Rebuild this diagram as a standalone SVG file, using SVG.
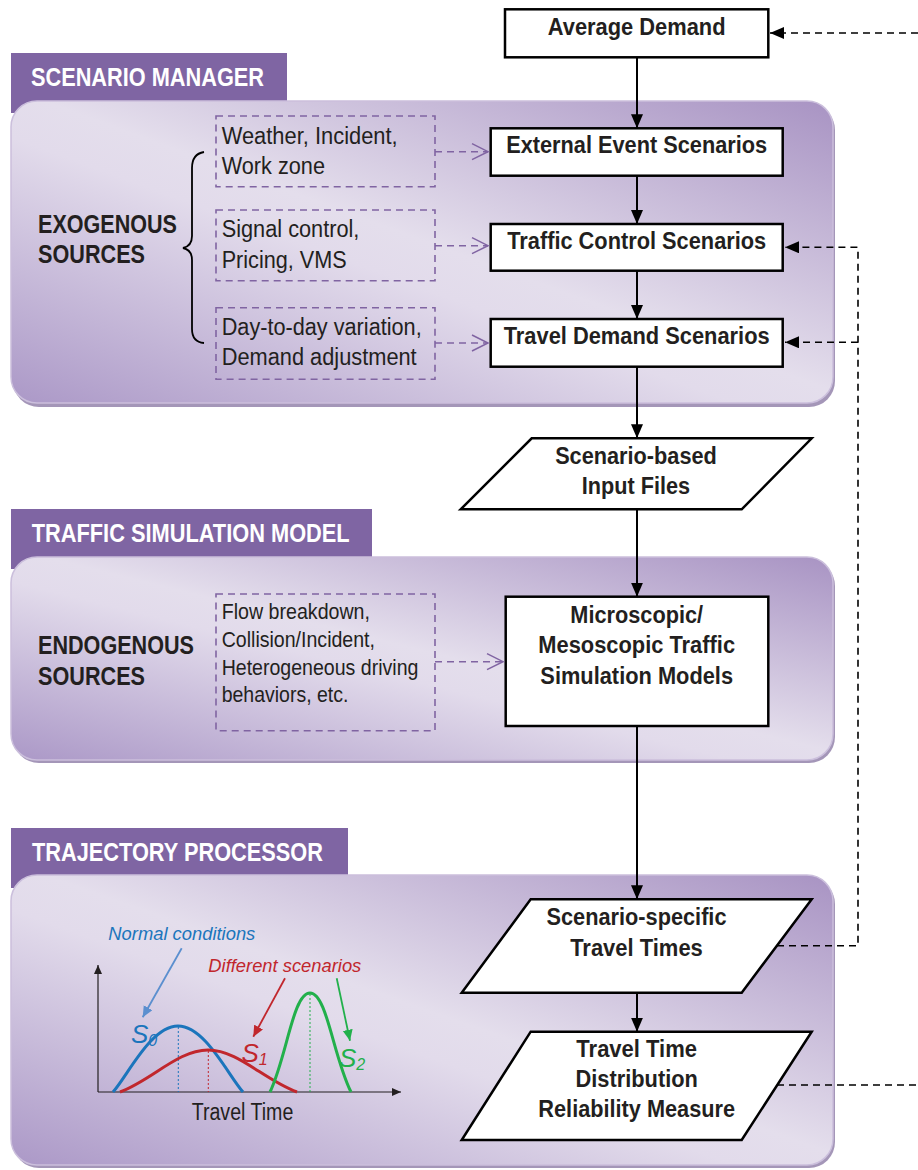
<svg xmlns="http://www.w3.org/2000/svg" width="918" height="1170" viewBox="0 0 918 1170">
<defs>
<linearGradient id="pg" x1="1" y1="0" x2="0" y2="1">
<stop offset="0" stop-color="#a893c3"/>
<stop offset="0.48" stop-color="#e4deec"/>
<stop offset="0.56" stop-color="#e2dbeb"/>
<stop offset="1" stop-color="#ab98c7"/>
</linearGradient>
<marker id="ah" markerUnits="userSpaceOnUse" markerWidth="15" markerHeight="12" refX="14" refY="6" orient="auto">
<path d="M0,0 L14,6 L0,12 z" fill="#000"/>
</marker>
<marker id="pa" markerUnits="userSpaceOnUse" markerWidth="20" markerHeight="20" refX="17" refY="9" orient="auto">
<path d="M1,1 L17,9 L1,17" fill="none" stroke="#8064a2" stroke-width="1.5"/>
</marker>
<marker id="sa" markerUnits="userSpaceOnUse" markerWidth="10" markerHeight="10" refX="9" refY="4" orient="auto">
<path d="M0,0 L9,4 L0,8 z" fill="#231f20"/>
</marker>
<marker id="ab" markerUnits="userSpaceOnUse" markerWidth="12" markerHeight="12" refX="11" refY="5" orient="auto">
<path d="M0,0 L11,5 L0,10 z" fill="#5b8fcf"/>
</marker>
<marker id="ar" markerUnits="userSpaceOnUse" markerWidth="12" markerHeight="12" refX="11" refY="5" orient="auto">
<path d="M0,0 L11,5 L0,10 z" fill="#c1272d"/>
</marker>
<marker id="ag" markerUnits="userSpaceOnUse" markerWidth="12" markerHeight="12" refX="11" refY="5" orient="auto">
<path d="M0,0 L11,5 L0,10 z" fill="#22b04b"/>
</marker>
</defs>
<style>
.tab{fill:#7f65a3}
.shadow{fill:#a496b8}
.panel{fill:url(#pg);stroke:#cbbfdc;stroke-width:1.5}
.tabt{font-family:"Liberation Sans Narrow","Liberation Sans",Arial,sans-serif;font-weight:bold;font-size:26px;fill:#fff}
.src{font-family:"Liberation Sans Narrow","Liberation Sans",Arial,sans-serif;font-weight:bold;font-size:25px;fill:#231f20}
.box{fill:#fff;stroke:#000;stroke-width:2.5}
.nt{font-family:"Liberation Sans Narrow","Liberation Sans",Arial,sans-serif;font-weight:bold;font-size:23.5px;fill:#231f20;text-anchor:middle}
.db{fill:none;stroke:#8064a2;stroke-width:1.6;stroke-dasharray:7,5}
.dt{font-family:"Liberation Sans Narrow","Liberation Sans",Arial,sans-serif;font-size:23px;fill:#231f20}
.dt2{font-family:"Liberation Sans Narrow","Liberation Sans",Arial,sans-serif;font-size:21.5px;fill:#231f20}
.main{fill:none;stroke:#000;stroke-width:2;marker-end:url(#ah)}
.fb{fill:none;stroke:#000;stroke-width:1.6;stroke-dasharray:7,5}
.pl{fill:none;stroke:#8064a2;stroke-width:1.6;stroke-dasharray:7,5;marker-end:url(#pa)}
.it{font-family:"Liberation Sans Narrow","Liberation Sans",Arial,sans-serif;font-style:italic;font-size:19px}
.sl{font-family:"Liberation Sans Narrow","Liberation Sans",Arial,sans-serif;font-style:italic;font-size:26px}
</style>

<g id="panel-scenario-manager">
<rect class="tab" x="11" y="53" width="276" height="60"/>
<rect class="shadow" x="13" y="104" width="822" height="303" rx="26"/>
<rect class="panel" x="11" y="101" width="822" height="302" rx="26"/>
<text class="tabt" x="31" y="86" textLength="233" lengthAdjust="spacingAndGlyphs">SCENARIO MANAGER</text>
</g>
<g id="panel-traffic-simulation">
<rect class="tab" x="11" y="509" width="361" height="60"/>
<rect class="shadow" x="13" y="560" width="822" height="203" rx="26"/>
<rect class="panel" x="11" y="557" width="822" height="203" rx="26"/>
<text class="tabt" x="31.7" y="542" textLength="318" lengthAdjust="spacingAndGlyphs">TRAFFIC SIMULATION MODEL</text>
</g>
<g id="panel-trajectory-processor">
<rect class="tab" x="11" y="828" width="337" height="60"/>
<rect class="shadow" x="13" y="878" width="822" height="290" rx="26"/>
<rect class="panel" x="11" y="875" width="822" height="290" rx="26"/>
<text class="tabt" x="32" y="861" textLength="291" lengthAdjust="spacingAndGlyphs">TRAJECTORY PROCESSOR</text>
</g>

<g id="exogenous-sources">
<text class="src" x="38" y="233" textLength="139" lengthAdjust="spacingAndGlyphs">EXOGENOUS</text>
<text class="src" x="38" y="262.5" textLength="107" lengthAdjust="spacingAndGlyphs">SOURCES</text>
<path d="M204,152 Q192,154 192,168 L192,236 Q192,246 183,248 Q192,250 192,260 L192,329 Q192,342 204,343" fill="none" stroke="#000" stroke-width="1.8"/>
</g>
<g id="src-weather">
<rect class="db" x="216" y="116" width="219" height="70.7"/>
<text class="dt" x="221.7" y="144" textLength="176" lengthAdjust="spacingAndGlyphs">Weather, Incident,</text>
<text class="dt" x="221.7" y="174" textLength="103.3" lengthAdjust="spacingAndGlyphs">Work zone</text>
</g>
<g id="src-signal">
<rect class="db" x="216" y="210" width="219" height="70.7"/>
<text class="dt" x="221.7" y="237" textLength="137.7" lengthAdjust="spacingAndGlyphs">Signal control,</text>
<text class="dt" x="221.7" y="268" textLength="125" lengthAdjust="spacingAndGlyphs">Pricing, VMS</text>
</g>
<g id="src-demand">
<rect class="db" x="216" y="307.7" width="219" height="71.6"/>
<text class="dt" x="221.7" y="335" textLength="200" lengthAdjust="spacingAndGlyphs">Day-to-day variation,</text>
<text class="dt" x="221.7" y="365" textLength="195" lengthAdjust="spacingAndGlyphs">Demand adjustment</text>
</g>

<g id="endogenous-sources">
<text class="src" x="38" y="653.5" textLength="156" lengthAdjust="spacingAndGlyphs">ENDOGENOUS</text>
<text class="src" x="38" y="684.5" textLength="107" lengthAdjust="spacingAndGlyphs">SOURCES</text>
</g>
<g id="src-endogenous">
<rect class="db" x="216" y="594" width="219" height="136.7"/>
<text class="dt2" x="221.7" y="619.3" textLength="148.3" lengthAdjust="spacingAndGlyphs">Flow breakdown,</text>
<text class="dt2" x="221.7" y="646.7" textLength="153.3" lengthAdjust="spacingAndGlyphs">Collision/Incident,</text>
<text class="dt2" x="221.7" y="675" textLength="196.7" lengthAdjust="spacingAndGlyphs">Heterogeneous driving</text>
<text class="dt2" x="221.7" y="701.7" textLength="126.7" lengthAdjust="spacingAndGlyphs">behaviors, etc.</text>
</g>

<g id="average-demand">
<rect class="box" x="505" y="9.3" width="263.3" height="48"/>
<text class="nt" x="636.7" y="35" textLength="177.7" lengthAdjust="spacingAndGlyphs">Average Demand</text>
</g>
<g id="external-event">
<rect class="box" x="490.7" y="128.3" width="292" height="47.4"/>
<text class="nt" x="636.7" y="153.3" textLength="261" lengthAdjust="spacingAndGlyphs">External Event Scenarios</text>
</g>
<g id="traffic-control">
<rect class="box" x="490.7" y="224" width="292" height="46.7"/>
<text class="nt" x="636.7" y="249.3" textLength="259" lengthAdjust="spacingAndGlyphs">Traffic Control Scenarios</text>
</g>
<g id="travel-demand">
<rect class="box" x="490.7" y="319" width="292" height="47.7"/>
<text class="nt" x="636.7" y="344" textLength="266" lengthAdjust="spacingAndGlyphs">Travel Demand Scenarios</text>
</g>
<g id="scenario-input-files">
<polygon class="box" points="531.7,438.3 811.7,438.3 741.7,509.3 460.7,509.3"/>
<text class="nt" x="636" y="464" textLength="161.7" lengthAdjust="spacingAndGlyphs">Scenario-based</text>
<text class="nt" x="636" y="494" textLength="108.3" lengthAdjust="spacingAndGlyphs">Input Files</text>
</g>
<g id="simulation-models">
<rect class="box" x="505.7" y="596.7" width="262.6" height="129.3"/>
<text class="nt" x="636.7" y="623.3" textLength="132.7" lengthAdjust="spacingAndGlyphs">Microscopic/</text>
<text class="nt" x="636.7" y="653.3" textLength="196.7" lengthAdjust="spacingAndGlyphs">Mesoscopic Traffic</text>
<text class="nt" x="636.7" y="684" textLength="192.7" lengthAdjust="spacingAndGlyphs">Simulation Models</text>
</g>
<g id="scenario-travel-times">
<polygon class="box" points="530.7,899.3 811.7,899.3 741.7,992.7 461.7,992.7"/>
<text class="nt" x="636.5" y="925" textLength="180" lengthAdjust="spacingAndGlyphs">Scenario-specific</text>
<text class="nt" x="636.5" y="955.7" textLength="132.7" lengthAdjust="spacingAndGlyphs">Travel Times</text>
</g>
<g id="travel-time-distribution">
<polygon class="box" points="530.7,1031.7 811.7,1031.7 741.7,1140 461.7,1140"/>
<text class="nt" x="636.7" y="1056.7" textLength="120.7" lengthAdjust="spacingAndGlyphs">Travel Time</text>
<text class="nt" x="636.7" y="1087.3" textLength="122.3" lengthAdjust="spacingAndGlyphs">Distribution</text>
<text class="nt" x="636.7" y="1117.3" textLength="196.7" lengthAdjust="spacingAndGlyphs">Reliability Measure</text>
</g>

<g id="chart">
<line x1="98" y1="1092" x2="98" y2="965" stroke="#231f20" stroke-width="1.2" marker-end="url(#sa)"/>
<line x1="98" y1="1092" x2="401" y2="1092" stroke="#231f20" stroke-width="1.2" marker-end="url(#sa)"/>
<line x1="178.3" y1="1027" x2="178.3" y2="1092" stroke="#1b75bc" stroke-width="1" stroke-dasharray="2,2"/>
<line x1="208.3" y1="1051" x2="208.3" y2="1092" stroke="#c1272d" stroke-width="1" stroke-dasharray="2,2"/>
<line x1="310" y1="994" x2="310" y2="1092" stroke="#22b04b" stroke-width="1" stroke-dasharray="2,2"/>
<path d="M113,1092 C128,1075 151,1026 178,1026 C205,1026 228,1075 243,1092" fill="none" stroke="#1b75bc" stroke-width="3"/>
<path d="M120,1092 C152,1080 178,1050 208,1050 C238,1050 264,1080 297,1092" fill="none" stroke="#c1272d" stroke-width="3"/>
<path d="M270,1092 C287,1056 293,993 310,993 C327,993 333,1056 351,1092" fill="none" stroke="#22b04b" stroke-width="3"/>
<text class="it" x="108.3" y="940" fill="#1b75bc" textLength="147" lengthAdjust="spacingAndGlyphs">Normal conditions</text>
<text class="it" x="208.3" y="971.7" fill="#c1272d" textLength="153" lengthAdjust="spacingAndGlyphs">Different scenarios</text>
<line x1="181.7" y1="948.3" x2="142.7" y2="1017.3" stroke="#5b8fcf" stroke-width="1.8" marker-end="url(#ab)"/>
<line x1="285" y1="978.3" x2="253.3" y2="1036.7" stroke="#c1272d" stroke-width="1.8" marker-end="url(#ar)"/>
<line x1="336.7" y1="978.3" x2="350" y2="1040.7" stroke="#22b04b" stroke-width="1.8" marker-end="url(#ag)"/>
<text class="sl" x="131" y="1043.3" fill="#1b75bc">S<tspan style="font-size:16px" dy="3">0</tspan></text>
<text class="sl" x="241.5" y="1061.7" fill="#c1272d">S<tspan style="font-size:16px" dy="3">1</tspan></text>
<text class="sl" x="339" y="1066.7" fill="#22b04b">S<tspan style="font-size:16px" dy="3">2</tspan></text>
<text class="dt" x="191.7" y="1120" textLength="101.6" lengthAdjust="spacingAndGlyphs">Travel Time</text>
</g>

<g id="connectors">
<line class="main" x1="637" y1="57.3" x2="637" y2="128.3"/>
<line class="main" x1="637" y1="175.7" x2="637" y2="224"/>
<line class="main" x1="637" y1="270.7" x2="637" y2="319"/>
<line class="main" x1="637" y1="366.7" x2="637" y2="438.3"/>
<line class="main" x1="637" y1="509.3" x2="637" y2="596.7"/>
<line class="main" x1="637" y1="726" x2="637" y2="899.3"/>
<line class="main" x1="637" y1="992.7" x2="637" y2="1031.7"/>
<line class="pl" x1="435" y1="151.7" x2="488" y2="151.7"/>
<line class="pl" x1="435" y1="245.7" x2="488" y2="245.7"/>
<line class="pl" x1="435" y1="343" x2="488" y2="343"/>
<line class="pl" x1="435" y1="661.7" x2="503" y2="661.7"/>
<path class="fb" d="M918,33 L770,33" marker-end="url(#ah)"/>
<path class="fb" d="M777,945.7 L858,945.7 L858,247.3 L785,247.3" marker-end="url(#ah)"/>
<path class="fb" d="M858,342.3 L785,342.3" marker-end="url(#ah)"/>
<path class="fb" d="M777,1085 L918,1085"/>
</g>
</svg>
